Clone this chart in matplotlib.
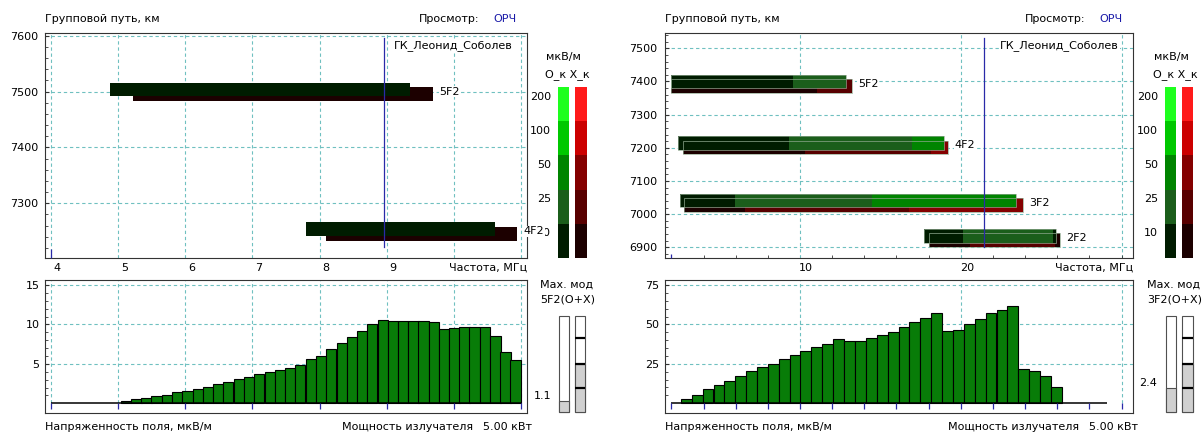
import matplotlib
matplotlib.use('Agg')
import matplotlib.pyplot as plt
from matplotlib.transforms import ScaledTranslation

W, H = 1202, 438
plt.rcParams['font.family'] = ['DejaVu Sans']
plt.rcParams['font.size'] = 8

# field strength bands (мкВ/м) and their colours, low -> high
BANDS = [10, 25, 50, 100, 200]
O_COLORS = ['#001c00', '#1b5e1b', '#008400', '#00c800', '#1eff1e']
X_COLORS = ['#1c0000', '#580000', '#840000', '#cc0000', '#ff1a1a']

# ---- left panel data
L_MODES = ['5F2', '4F2']
L_O_PATH = [7504, 7254]
L_X_PATH = [7496, 7245]
L_O_BREAKS = [[4.88, 9.35], [7.80, 10.62]]
L_O_LEVELS = [[0], [0]]
L_X_BREAKS = [[5.22, 9.69], [8.10, 10.94]]
L_X_LEVELS = [[0], [0]]
L_OPER_FREQ = 8.96
L_SWEEP = (4.0, 11.0)
L_BAR_FREQ = [5.12, 5.27, 5.42, 5.57, 5.73, 5.88, 6.03, 6.19, 6.34, 6.49,
              6.64, 6.80, 6.95, 7.10, 7.26, 7.41, 7.56, 7.71, 7.87, 8.02,
              8.17, 8.33, 8.48, 8.63, 8.78, 8.94, 9.09, 9.24, 9.40, 9.55,
              9.70, 9.85, 10.01, 10.16, 10.31, 10.47, 10.62, 10.77, 10.92]
L_FIELD = [0.33, 0.5, 0.67, 0.93, 1.09, 1.39, 1.52, 1.81, 2.1, 2.41,
           2.7, 3.04, 3.33, 3.75, 3.93, 4.22, 4.51, 4.82, 5.58, 6.0,
           6.88, 7.68, 8.4, 9.12, 10.01, 10.52, 10.47, 10.47, 10.47, 10.47,
           10.3, 9.42, 9.58, 9.71, 9.71, 9.71, 8.53, 6.46, 5.45]
L_MAXMOD = '5F2(O+X)'
L_MAXVAL = 1.1

# ---- right panel data
R_MODES = ['5F2', '4F2', '3F2', '2F2']
R_O_PATH = [7400, 7214, 7042, 6934]
R_X_PATH = [7386, 7201, 7027, 6922]
R_O_BREAKS = [[1.98, 9.55, 12.84], [2.39, 9.34, 16.98, 18.96],
              [2.54, 5.96, 14.50, 23.43], [17.73, 20.12, 25.72, 25.92]]
R_O_LEVELS = [[0, 1], [0, 1, 2], [0, 1, 2], [0, 1, 0]]
R_X_BREAKS = [[1.98, 11.04, 13.21], [2.70, 10.31, 18.13, 19.23],
              [2.80, 6.58, 16.80, 23.85], [18.02, 20.57, 25.86, 26.17]]
R_X_LEVELS = [[0, 1], [0, 1, 2], [0, 1, 2], [0, 1, 0]]
R_OPER_FREQ = 21.47
R_SWEEP = (2.0, 29.1)
R_BAR_FREQ = [2.93, 3.60, 4.28, 4.96, 5.63, 6.31, 6.99, 7.67, 8.34, 9.02,
              9.70, 10.37, 11.05, 11.73, 12.40, 13.08, 13.76, 14.44, 15.11, 15.79,
              16.47, 17.14, 17.82, 18.50, 19.17, 19.85, 20.53, 21.21, 21.88, 22.56,
              23.24, 23.91, 24.59, 25.27, 25.94]
R_FIELD = [2.7, 5.5, 9.3, 11.4, 14.4, 17.4, 20.5, 22.7, 24.8, 28.0,
           30.3, 33.3, 35.4, 37.5, 40.7, 39.8, 39.2, 41.3, 43.6, 45.1,
           48.3, 51.3, 54.1, 57.3, 45.8, 46.6, 50.4, 53.4, 57.3, 59.4,
           61.9, 21.8, 20.5, 17.4, 10.2]
R_MAXMOD = '3F2(O+X)'
R_MAXVAL = 2.4

GAUGE_MAX = 9.5
GAUGE_MARKS = [2.4, 4.75, 7.3]
GAUGE_FILL = 4.75

STATION = 'ГК_Леонид_Соболев'
POWER = '5.00 кВт'

GRID = '#6fc0c0'
FRAME = '#333333'
BLUE = '#2a2aa8'
BAR_GREEN = '#087c08'
DASH = (0, (3, 2.5))


def px_axes(fig, x0, y0, x1, y1):
    return fig.add_axes([x0 / W, 1 - y1 / H, (x1 - x0) / W, (y1 - y0) / H])


def ftext(fig, x, y, s, **kw):
    kw.setdefault('va', 'center')
    fig.text(x / W, 1 - y / H, s, **kw)


def style_frame(ax):
    for s in ax.spines.values():
        s.set_color(FRAME)
        s.set_linewidth(0.8)


def draw_top(fig, ax, xlim, ylim, xgrid, xlabels, xminor, ygrid, yminor,
             modes, o_path, x_path, o_br, o_lv, x_br, x_lv, oper, start,
             start_len, outline):
    ax.set_xlim(xlim)
    ax.set_ylim(ylim)
    style_frame(ax)
    ax.vlines(xgrid, *ylim, colors=GRID, linestyles=DASH, lw=0.8, zorder=0)
    ax.hlines(ygrid, *xlim, colors=GRID, linestyles=DASH, lw=0.8, zorder=0)

    ax.set_yticks(ygrid)
    ax.set_yticks(yminor, minor=True)
    ax.tick_params(axis='y', which='major', direction='in', length=3,
                   pad=5, color=FRAME, labelsize=8)
    ax.tick_params(axis='y', which='minor', direction='in', length=2,
                   color=FRAME)
    ax.set_xticks(xlabels)
    ax.set_xticks(xminor, minor=True)
    ax.tick_params(axis='x', which='major', length=0, pad=3.6, labelsize=8)
    ax.tick_params(axis='x', which='minor', direction='in', length=2,
                   color=FRAME)
    shift = ScaledTranslation(0.06, 0, fig.dpi_scale_trans)
    for lab in ax.get_xticklabels():
        lab.set_transform(lab.get_transform() + shift)

    # bar height fixed in pixels (~13.5 px)
    h = 13.5 * (ylim[1] - ylim[0]) / 225.0
    for i, m in enumerate(modes):
        for br, lv, path, pal in ((x_br[i], x_lv[i], x_path[i], X_COLORS),
                                  (o_br[i], o_lv[i], o_path[i], O_COLORS)):
            lefts = br[:-1]
            widths = [b - a for a, b in zip(br[:-1], br[1:])]
            ax.barh([path] * len(lefts), widths, left=lefts, height=h,
                    color=[pal[k] for k in lv], lw=0, zorder=3)
            if outline:
                ax.barh(path, br[-1] - br[0], left=br[0], height=h,
                        fill=False, edgecolor='#8fa88f', lw=0.5, zorder=3.5)
        ax.annotate(m, xy=(x_br[i][-1], (o_path[i] + x_path[i]) / 2),
                    xytext=(4.7, 0), textcoords='offset points', ha='left',
                    va='center', fontsize=8, zorder=6,
                    bbox=dict(fc='white', ec='none', pad=0.6))

    ax.axvline(oper, ymin=0.049, ymax=0.978, color=BLUE, lw=0.9, zorder=4)
    ax.plot([start], [ylim[0]], ls='none', marker=2, ms=start_len,
            mew=0.9, color=BLUE, clip_on=False, zorder=5)
    ax.annotate(STATION, xy=(1, 1), xycoords='axes fraction',
                xytext=(-10, -9), textcoords='offset points', ha='right',
                va='center', fontsize=8, zorder=6,
                bbox=dict(fc='white', ec='none', pad=0.6))


def draw_bottom(ax, xlim, ylim, xgrid, xblue, ygrid, yminor, freq, field,
                width, sweep):
    ax.set_xlim(xlim)
    ax.set_ylim(ylim)
    style_frame(ax)
    ax.vlines(xgrid, 0, ylim[1], colors=GRID, linestyles=DASH, lw=0.8, zorder=0)
    ax.hlines(ygrid, *xlim, colors=GRID, linestyles=DASH, lw=0.8, zorder=0)
    ax.bar(freq, field, width=width, color=BAR_GREEN, edgecolor='black',
           lw=0.8, zorder=3)
    ax.hlines(0, *sweep, colors='black', lw=1.1, zorder=4)
    ax.plot(xblue, [0] * len(xblue), ls='none', marker=3, ms=4.3, mew=0.9,
            color=BLUE, zorder=4)
    ax.set_xticks([])
    ax.set_yticks(ygrid)
    ax.set_yticks(yminor, minor=True)
    ax.tick_params(axis='y', which='major', direction='in', length=3,
                   pad=4, color=FRAME, labelsize=8)
    ax.tick_params(axis='y', which='minor', direction='in', length=2,
                   color=FRAME)


def draw_scale(ax):
    for col, pal in enumerate((O_COLORS, X_COLORS)):
        ax.bar([col] * len(BANDS), [1] * len(BANDS), bottom=range(len(BANDS)),
               width=0.64, color=pal, lw=0)
    ax.set_xlim(-0.32, 1.32)
    ax.set_ylim(0, len(BANDS))
    ax.set_xticks([])
    ax.set_yticks([i + 0.75 for i in range(len(BANDS))])
    ax.set_yticklabels([str(b) for b in BANDS])
    ax.tick_params(axis='y', length=0, pad=5, labelsize=8)
    for s in ax.spines.values():
        s.set_visible(False)
    ax.patch.set_alpha(0)


def draw_gauge(ax, value):
    ax.set_xlim(-0.31, 1.31)
    ax.set_ylim(0, GAUGE_MAX)
    kw = dict(width=0.62, edgecolor='#505050', lw=0.8, clip_on=False)
    ax.bar([0, 1], [GAUGE_MAX, GAUGE_MAX], color='white', **kw)
    ax.bar(0, value, color='#d0d0d0', **kw)
    ax.bar(1, GAUGE_FILL, color='#d0d0d0', **kw)
    ax.hlines(GAUGE_MARKS, 0.69, 1.31, colors='black', lw=1.6, clip_on=False)
    ax.annotate(f'{value:.1f}', xy=(-0.31, value), xytext=(-6, 3.5),
                textcoords='offset points', ha='right', va='center', fontsize=8)
    ax.axis('off')


def panel(fig, x0, x1, cb_x0, cb_x1, g_x0, g_x1, top_xlim, top_ylim, xgrid,
          xlabels, xminor, ygrid, yminor, modes, o_path, x_path, o_br, o_lv,
          x_br, x_lv, oper, sweep, start_len, outline, bot_ylim, bgrid,
          bminor, xblue, freq, field, width, maxmod, maxval):
    top = px_axes(fig, x0, 33, x1, 258)
    bot = px_axes(fig, x0, 280, x1, 412.7)
    cb = px_axes(fig, cb_x0, 87, cb_x1, 258)
    gg = px_axes(fig, g_x0, 315.7, g_x1, 412.2)
    draw_scale(cb)
    draw_top(fig, top, top_xlim, top_ylim, xgrid, xlabels, xminor, ygrid,
             yminor, modes, o_path, x_path, o_br, o_lv, x_br, x_lv, oper,
             sweep[0], start_len, outline)
    top.set_zorder(3)
    draw_bottom(bot, top_xlim, bot_ylim, xgrid, xblue, bgrid, bminor, freq,
                field, width, sweep)
    draw_gauge(gg, maxval)

    ftext(fig, x0, 19, 'Групповой путь, км', ha='left')
    ftext(fig, x1 - 48, 19, 'Просмотр:', ha='right')
    ftext(fig, x1 - 11, 19, 'ОРЧ', ha='right', color='#1a1aa8')
    ftext(fig, x1, 268, 'Частота, МГц', ha='right')
    ftext(fig, cb_x0 + 6, 57, 'мкВ/м', ha='center')
    ftext(fig, cb_x0 + 10, 75, 'О_к Х_к', ha='center')
    ftext(fig, g_x0 - 19, 285, 'Мах. мод', ha='left')
    ftext(fig, g_x0 - 19, 300, maxmod, ha='left')
    ftext(fig, x0, 427, 'Напряженность поля, мкВ/м', ha='left')
    ftext(fig, x1 - 54, 427, 'Мощность излучателя', ha='right')
    ftext(fig, x1 + 5, 427, POWER, ha='right')


fig = plt.figure(figsize=(W / 100, H / 100), dpi=100, facecolor='white')

panel(fig, 45, 527, 557.7, 586.7, 559.3, 585,
      top_xlim=(3.908, 11.091), top_ylim=(7202, 7605),
      xgrid=[4, 5, 6, 7, 8, 9, 10, 11], xlabels=[4, 5, 6, 7, 8, 9], xminor=[],
      ygrid=[7300, 7400, 7500, 7600],
      yminor=list(range(7220, 7600, 20)),
      modes=L_MODES, o_path=L_O_PATH, x_path=L_X_PATH,
      o_br=L_O_BREAKS, o_lv=L_O_LEVELS, x_br=L_X_BREAKS, x_lv=L_X_LEVELS,
      oper=L_OPER_FREQ, sweep=L_SWEEP, start_len=6.7, outline=False,
      bot_ylim=(-1.19, 15.63), bgrid=[5, 10, 15], bminor=list(range(1, 16)),
      xblue=[4, 5, 6, 7, 8, 9, 10, 11], freq=L_BAR_FREQ, field=L_FIELD,
      width=0.1528, maxmod=L_MAXMOD, maxval=L_MAXVAL)

panel(fig, 664.6, 1133, 1165, 1193.3, 1165.7, 1192.7,
      top_xlim=(1.58, 30.71), top_ylim=(6868, 7546),
      xgrid=[10, 20, 30], xlabels=[10, 20], xminor=list(range(2, 31, 2)),
      ygrid=[6900, 7000, 7100, 7200, 7300, 7400, 7500],
      yminor=list(range(6880, 7546, 20)),
      modes=R_MODES, o_path=R_O_PATH, x_path=R_X_PATH,
      o_br=R_O_BREAKS, o_lv=R_O_LEVELS, x_br=R_X_BREAKS, x_lv=R_X_LEVELS,
      oper=R_OPER_FREQ, sweep=R_SWEEP, start_len=3.1, outline=True,
      bot_ylim=(-6.0, 78.2), bgrid=[25, 50, 75], bminor=list(range(5, 80, 5)),
      xblue=list(range(2, 31, 2)), freq=R_BAR_FREQ, field=R_FIELD,
      width=0.677, maxmod=R_MAXMOD, maxval=R_MAXVAL)

fig.savefig('out.png', dpi=100, facecolor='white')
